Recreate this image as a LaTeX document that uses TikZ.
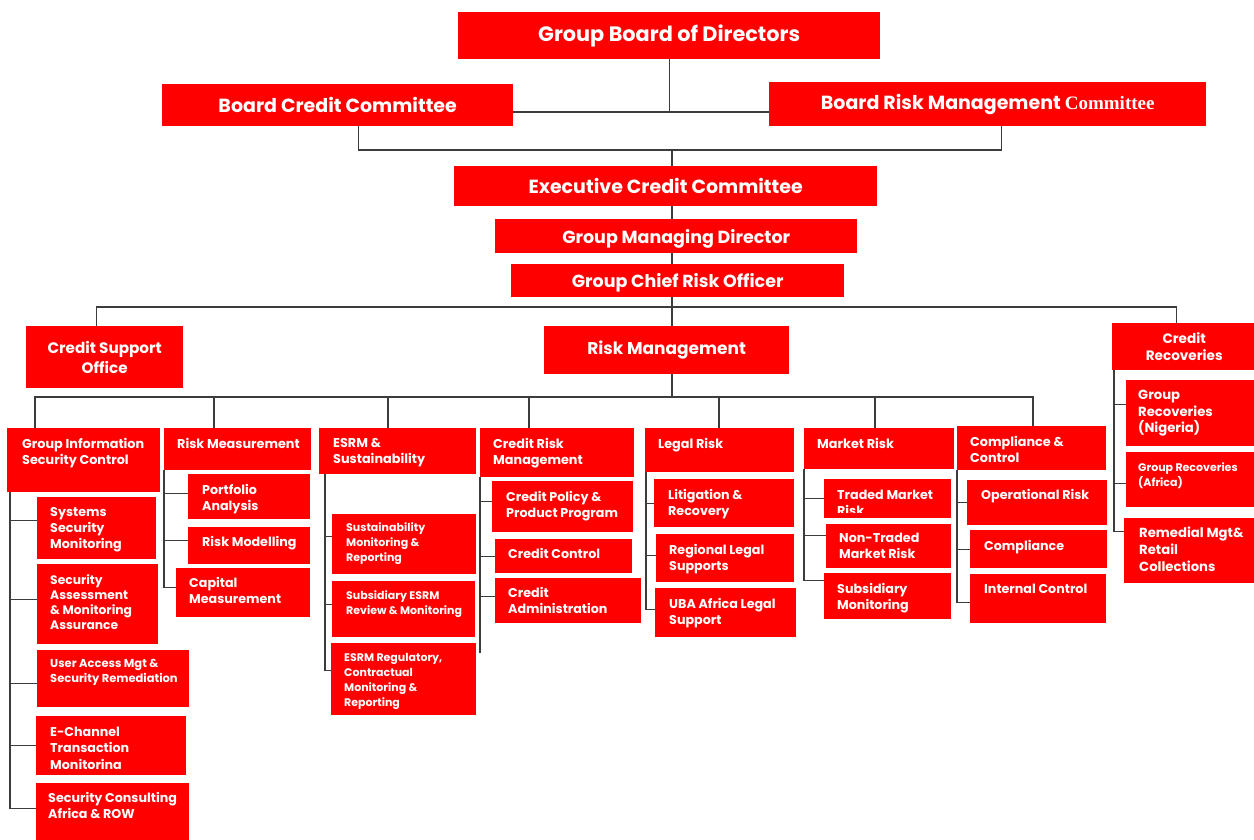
\documentclass[tikz,border=0pt]{standalone}
\usepackage{fontspec}
\setmainfont{Poppins}
\newfontfamily\serifb{Liberation Serif}
\usepackage{tikz}
\definecolor{ubared}{HTML}{FF0000}
\definecolor{linegray}{HTML}{3C3C3C}

\begin{document}
\begin{tikzpicture}[x=1pt,y=-1pt]
		\tikzstyle{box}=[fill=ubared,anchor=north west,inner sep=0pt]
		\tikzstyle{head}=[box,text=white,align=center,font=\fontsize{19}{23}\selectfont\bfseries]
		\tikzstyle{txt}=[anchor=north west,inner sep=0pt,text=white,align=left,font=\fontsize{12.7}{16.3}\selectfont\bfseries]
		\tikzstyle{unit}=[font=\fontsize{12.8}{16.3}\selectfont\bfseries]
		\tikzstyle{small}=[font=\fontsize{11}{15}\selectfont\bfseries]
		\tikzstyle{link}=[draw=linegray,line width=1.3pt]

		\useasboundingbox (0,0) rectangle (1254,839);

		% board and executive level
		\node[head,minimum width=422,minimum height=47,font=\fontsize{20.8}{24}\selectfont\bfseries](gbd) at (458,12){Group Board of Directors};
		\node[head,minimum width=351,minimum height=42](bcc) at (162,84){Board Credit Committee};
		\node[head,minimum width=437,minimum height=44](brmc) at (769,82){Board Risk Management {\serifb Committee}};
		\node[head,minimum width=423,minimum height=40](ecc) at (454,166){Executive Credit Committee};
		\node[head,minimum width=362,minimum height=34,text depth=0pt,font=\fontsize{17.5}{21}\selectfont\bfseries](gmd) at (495,219){Group Managing Director};
		\node[head,minimum width=333,minimum height=33,text depth=0pt,font=\fontsize{17.5}{21}\selectfont\bfseries](gcro) at (511,264){Group Chief Risk Officer};

		\node[head,minimum width=157,minimum height=62,font=\fontsize{15.2}{20}\selectfont\bfseries](cso) at (26,326){Credit Support\\Office};
		\node[head,minimum width=245,minimum height=48,font=\fontsize{17}{21}\selectfont\bfseries](rm) at (544,326){Risk Management};
		\node[head,minimum width=144,minimum height=47,font=\fontsize{13.6}{17.7}\selectfont\bfseries](crec) at (1112,323){Credit\\Recoveries};

		% units under risk management
		\node[box,minimum width=153,minimum height=64](gisc) at (7,428){};
		\node[txt,unit](gisc-t) at ([shift={(15,10)}]gisc.north west){Group Information\\Security Control};
		\node[box,minimum width=147,minimum height=42](rmeas) at (164,428){};
		\node[txt,unit](rmeas-t) at ([shift={(13,10)}]rmeas.north west){Risk Measurement};
		\node[box,minimum width=157,minimum height=46](esrm) at (319,428){};
		\node[txt,unit](esrm-t) at ([shift={(14,10)}]esrm.north west){ESRM \&\\Sustainability};
		\node[box,minimum width=154,minimum height=49](crm) at (480,428){};
		\node[txt,unit](crm-t) at ([shift={(13,10)}]crm.north west){Credit Risk\\Management};
		\node[box,minimum width=149,minimum height=44](legal) at (645,428){};
		\node[txt,unit](legal-t) at ([shift={(13,10)}]legal.north west){Legal Risk};
		\node[box,minimum width=150,minimum height=41](mkt) at (804,428){};
		\node[txt,unit](mkt-t) at ([shift={(13,10)}]mkt.north west){Market Risk};
		\node[box,minimum width=149,minimum height=44](cc) at (957,426){};
		\node[txt,unit](cc-t) at ([shift={(13,10)}]cc.north west){Compliance \&\\Control};

		% group information security control
		\node[box,minimum width=119,minimum height=62](ssm) at (37,497){};
		\node[txt](ssm-t) at ([shift={(13,10)}]ssm.north west){Systems\\Security\\Monitoring};
		\node[box,minimum width=121,minimum height=80](sama) at (37,564){};
		\node[txt,font=\fontsize{12.3}{15.3}\selectfont\bfseries](sama-t) at ([shift={(13,10)}]sama.north west){Security\\Assessment\\\& Monitoring\\Assurance};
		\node[box,minimum width=152,minimum height=57](uam) at (37,650){};
		\node[txt,font=\fontsize{11.5}{15}\selectfont\bfseries](uam-t) at ([shift={(13,9)}]uam.north west){User Access Mgt \&\\Security Remediation};
		\node[box,minimum width=150,minimum height=59](ectm) at (36,716){};
		\begin{scope}
			\clip (ectm.north west) rectangle ([yshift=7pt]ectm.south east);
			\node[txt](ectm-t) at ([shift={(14,11)}]ectm.north west){E-Channel\\Transaction\\Monitoring};
		\end{scope}
		\node[box,minimum width=153,minimum height=62](scar) at (36,783){};
		\node[txt](scar-t) at ([shift={(12,9)}]scar.north west){Security Consulting\\Africa \& ROW};

		% risk measurement
		\node[box,minimum width=122,minimum height=45](pa) at (188,474){};
		\node[txt](pa-t) at ([shift={(14,10)}]pa.north west){Portfolio\\Analysis};
		\node[box,minimum width=122,minimum height=37](rmod) at (188,527){};
		\node[txt](rmod-t) at ([shift={(14,9)}]rmod.north west){Risk Modelling};
		\node[box,minimum width=134,minimum height=49](capm) at (176,568){};
		\node[txt](capm-t) at ([shift={(13,9)}]capm.north west){Capital\\Measurement};

		% esrm
		\node[box,minimum width=144,minimum height=60](smr) at (332,514){};
		\node[txt,small](smr-t) at ([shift={(14,8)}]smr.north west){Sustainability\\Monitoring \&\\Reporting};
		\node[box,minimum width=143,minimum height=56](serm) at (332,581){};
		\node[txt,small](serm-t) at ([shift={(14,9)}]serm.north west){Subsidiary ESRM\\Review \& Monitoring};
		\node[box,minimum width=145,minimum height=72](ercm) at (331,643){};
		\node[txt,small](ercm-t) at ([shift={(13,10)}]ercm.north west){ESRM Regulatory,\\Contractual\\Monitoring \&\\Reporting};

		% credit risk management
		\node[box,minimum width=141,minimum height=51](cpp) at (492,481){};
		\node[txt](cpp-t) at ([shift={(14,10)}]cpp.north west){Credit Policy \&\\Product Program};
		\node[box,minimum width=137,minimum height=34](cctl) at (495,539){};
		\node[txt](cctl-t) at ([shift={(13,9)}]cctl.north west){Credit Control};
		\node[box,minimum width=146,minimum height=45](cadm) at (495,578){};
		\node[txt](cadm-t) at ([shift={(13,9)}]cadm.north west){Credit\\Administration};

		% legal risk
		\node[box,minimum width=140,minimum height=48](lit) at (654,479){};
		\node[txt](lit-t) at ([shift={(14,10)}]lit.north west){Litigation \&\\Recovery};
		\node[box,minimum width=138,minimum height=48](rls) at (656,534){};
		\node[txt](rls-t) at ([shift={(13,10)}]rls.north west){Regional Legal\\Supports};
		\node[box,minimum width=141,minimum height=49](uba) at (655,588){};
		\node[txt](uba-t) at ([shift={(14,10)}]uba.north west){UBA Africa Legal\\Support};

		% market risk
		\node[box,minimum width=127,minimum height=39](tmr) at (824,479){};
		\begin{scope}
			\clip (tmr.north west) rectangle ([yshift=6pt]tmr.south east);
			\node[txt](tmr-t) at ([shift={(13,11)}]tmr.north west){Traded Market\\Risk};
		\end{scope}
		\node[box,minimum width=125,minimum height=44](ntmr) at (826,524){};
		\node[txt](ntmr-t) at ([shift={(13,9)}]ntmr.north west){Non-Traded\\Market Risk};
		\node[box,minimum width=127,minimum height=46](subm) at (824,573){};
		\node[txt](subm-t) at ([shift={(13,10)}]subm.north west){Subsidiary\\Monitoring};

		% compliance and control
		\node[box,minimum width=140,minimum height=45](opr) at (967,480){};
		\node[txt](opr-t) at ([shift={(14,9)}]opr.north west){Operational Risk};
		\node[box,minimum width=137,minimum height=38](comp) at (970,530){};
		\node[txt](comp-t) at ([shift={(14,10)}]comp.north west){Compliance};
		\node[box,minimum width=136,minimum height=49](ictl) at (970,574){};
		\node[txt](ictl-t) at ([shift={(14,10)}]ictl.north west){Internal Control};

		% credit recoveries
		\node[box,minimum width=130,minimum height=66](grn) at (1126,380){};
		\node[txt,font=\fontsize{13.2}{16.7}\selectfont\bfseries](grn-t) at ([shift={(12,10)}]grn.north west){Group\\Recoveries\\(Nigeria)};
		\node[box,minimum width=130,minimum height=55](gra) at (1126,452){};
		\node[txt,small](gra-t) at ([shift={(12,10)}]gra.north west){Group Recoveries\\(Africa)};
		\node[box,minimum width=132,minimum height=65](rem) at (1124,518){};
		\node[txt,font=\fontsize{13.2}{16.7}\selectfont\bfseries](rem-t) at ([shift={(15,9)}]rem.north west){Remedial Mgt\&\\Retail\\Collections};

		% connectors, top part
		\coordinate (j1) at (668,112);
		\coordinate (j2) at (672,150);
		\coordinate (j3) at (672,307);
		\coordinate (j4) at (672,397);
		\draw[link] (gbd.south) -- (gbd.south |- j1);
		\draw[link] (bcc.east |- j1) -- (brmc.west |- j1);
		\draw[link] ([xshift=21pt]bcc.south) |- (j2) -| ([xshift=14pt]brmc.south);
		\draw[link] (j2) -- (j2 |- ecc.north);
		\draw[link] (ecc.south -| j2) -- (gmd.north -| j2);
		\draw[link] (gmd.south -| j2) -- (gcro.north -| j2);
		\draw[link] (gcro.south -| j3) -- (rm.north -| j3);
		\draw[link] ([xshift=-8pt]cso.north) |- (j3) -| ([xshift=-8pt]crec.north);
		\draw[link] (rm.south -| j4) -- (j4);

		% bus to the units
		\coordinate (d1) at (35,397);
		\coordinate (d2) at (214,397);
		\coordinate (d3) at (388,397);
		\coordinate (d4) at (529,397);
		\coordinate (d5) at (719,397);
		\coordinate (d6) at (875,397);
		\coordinate (d7) at (1033,397);
		\draw[link] (d1 |- gisc.north) -- (d1) -- (d7) -- (d7 |- cc.north);
		\draw[link] (d2) -- (d2 |- rmeas.north);
		\draw[link] (d3) -- (d3 |- esrm.north);
		\draw[link] (d4) -- (d4 |- crm.north);
		\draw[link] (d5) -- (d5 |- legal.north);
		\draw[link] (d6) -- (d6 |- mkt.north);

		% spines
		\coordinate (gisc-s) at ([xshift=3pt]gisc.south west);
		\draw[link] (gisc-s) |- ([yshift=8pt]ssm.west);
		\draw[link] (gisc-s) |- ([yshift=5pt]sama.west);
		\draw[link] (gisc-s) |- ([yshift=-5pt]uam.west);
		\draw[link] (gisc-s) |- (ectm.west);
		\draw[link] (gisc-s) |- ([yshift=6pt]scar.west);

		\coordinate (rmeas-s) at (rmeas.south west);
		\draw[link] (rmeas-s) |- ([yshift=3pt]pa.west);
		\draw[link] (rmeas-s) |- ([yshift=5pt]rmod.west);
		\draw[link] (rmeas-s) |- ([yshift=5pt]capm.west);

		\coordinate (esrm-s) at ([xshift=6pt]esrm.south west);
		\draw[link] (esrm-s) |- ([yshift=8pt]smr.west);
		\draw[link] (esrm-s) |- ([yshift=5pt]serm.west);
		\draw[link] (esrm-s) |- ([yshift=9pt]ercm.west);

		\coordinate (crm-s) at (crm.south west);
		\coordinate (crm-e) at (480,653);
		\draw[link] (crm-s) -- (crm-e);
		\draw[link] (crm-s) |- ([yshift=5pt]cpp.west);
		\draw[link] (crm-s) |- (cctl.west);
		\draw[link] (crm-s) |- ([yshift=4pt]cadm.west);

		\coordinate (legal-s) at ([xshift=1pt]legal.south west);
		\draw[link] (legal-s) |- (lit.west);
		\draw[link] (legal-s) |- ([yshift=3pt]rls.west);
		\draw[link] (legal-s) |- ([yshift=3pt]uba.west);

		\coordinate (mkt-s) at (mkt.south west);
		\draw[link] (mkt-s) |- (tmr.west);
		\draw[link] (mkt-s) |- ([yshift=11pt]ntmr.west);
		\draw[link] (mkt-s) |- ([yshift=16pt]subm.west);

		\coordinate (cc-s) at (cc.south west);
		\draw[link] (cc-s) |- (opr.west);
		\draw[link] (cc-s) |- (comp.west);
		\draw[link] (cc-s) |- ([yshift=-4pt]ictl.west);

		\coordinate (crec-s) at ([xshift=2pt]crec.south west);
		\draw[link] (crec-s) |- ([yshift=9pt]grn.west);
		\draw[link] (crec-s) |- ([yshift=-4pt]gra.west);
		\draw[link] (crec-s) |- ([yshift=19pt]rem.west);
	\end{tikzpicture}
\end{document}
